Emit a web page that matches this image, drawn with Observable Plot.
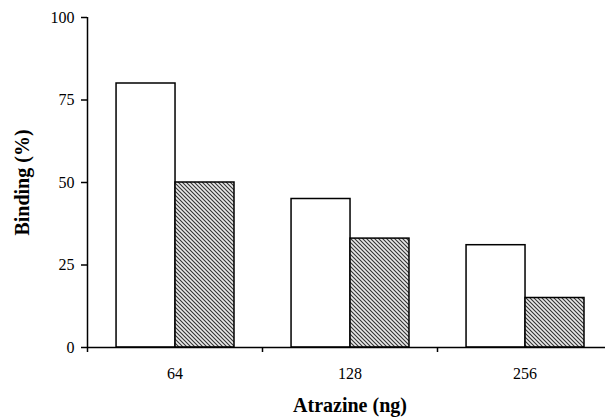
<!DOCTYPE html>
<html>
<head>
<meta charset="utf-8">
<script src="https://cdn.jsdelivr.net/npm/d3@7"></script>
<script src="https://cdn.jsdelivr.net/npm/@observablehq/plot@0.6"></script>
<style>
  body { margin: 0; background: white; overflow: hidden; }
</style>
</head>
<body>
<div id="chart"></div>
<script>
const doses = ["64", "128", "256"];
const control = [80, 45, 31];
const treated = [50, 33, 15];
const yTicks = [0, 25, 50, 75, 100];

const rows = [];
doses.forEach((d, i) => {
  rows.push({i, dose: d, series: "control", value: control[i], x1: i + 0.166, x2: i + 0.503});
  rows.push({i, dose: d, series: "treated", value: treated[i], x1: i + 0.503, x2: i + 0.84});
});

const chart = Plot.plot({
  width: 605,
  height: 417,
  marginLeft: 87,
  marginRight: -7,
  marginTop: 17,
  marginBottom: 70,
  style: {fontFamily: "Liberation Serif, serif", fontSize: "16px", color: "black", background: "white"},
  x: {domain: [0, 3]},
  y: {domain: [0, 100]},
  marks: [
    Plot.rectY(rows, {
      x1: "x1", x2: "x2", y1: 0, y2: "value",
      fill: d => d.series === "control" ? "white" : "url(#hatch)",
      stroke: "black", strokeWidth: 1.5
    }),
    Plot.ruleY([0], {stroke: "black", strokeWidth: 1.5}),
    Plot.ruleX([0], {stroke: "black", strokeWidth: 1.5}),
    Plot.axisY({ticks: yTicks, tickSize: 6, tickPadding: 7, label: null, strokeWidth: 1.5}),
    Plot.axisX({ticks: [0, 1, 2, 3], tickSize: 5, tickFormat: () => "", label: null, strokeWidth: 1.5}),
    Plot.axisX({ticks: [0.5, 1.5, 2.5], tickSize: 0, tickPadding: 20, tickFormat: d => doses[Math.floor(d)], label: null}),
    Plot.text(["Binding (%)"], {frameAnchor: "left", textAnchor: "middle", lineAnchor: "middle", dx: -65, rotate: -90, fontWeight: "bold", fontSize: 20}),
    Plot.text(["Atrazine (ng)"], {frameAnchor: "bottom", textAnchor: "middle", lineAnchor: "middle", dy: 58, fontWeight: "bold", fontSize: 20})
  ]
});

const ns = "http://www.w3.org/2000/svg";
const defs = document.createElementNS(ns, "defs");
defs.innerHTML = `<pattern id="hatch" patternUnits="userSpaceOnUse" width="4" height="4">
  <rect width="4" height="4" fill="#e8e8e8"></rect>
  <path d="M-1,-1 L5,5 M-1,3 L1,5 M3,-1 L5,1" stroke="#333" stroke-width="1.1"></path>
</pattern>`;
chart.insertBefore(defs, chart.firstChild);
document.getElementById("chart").appendChild(chart);
</script>
</body>
</html>
